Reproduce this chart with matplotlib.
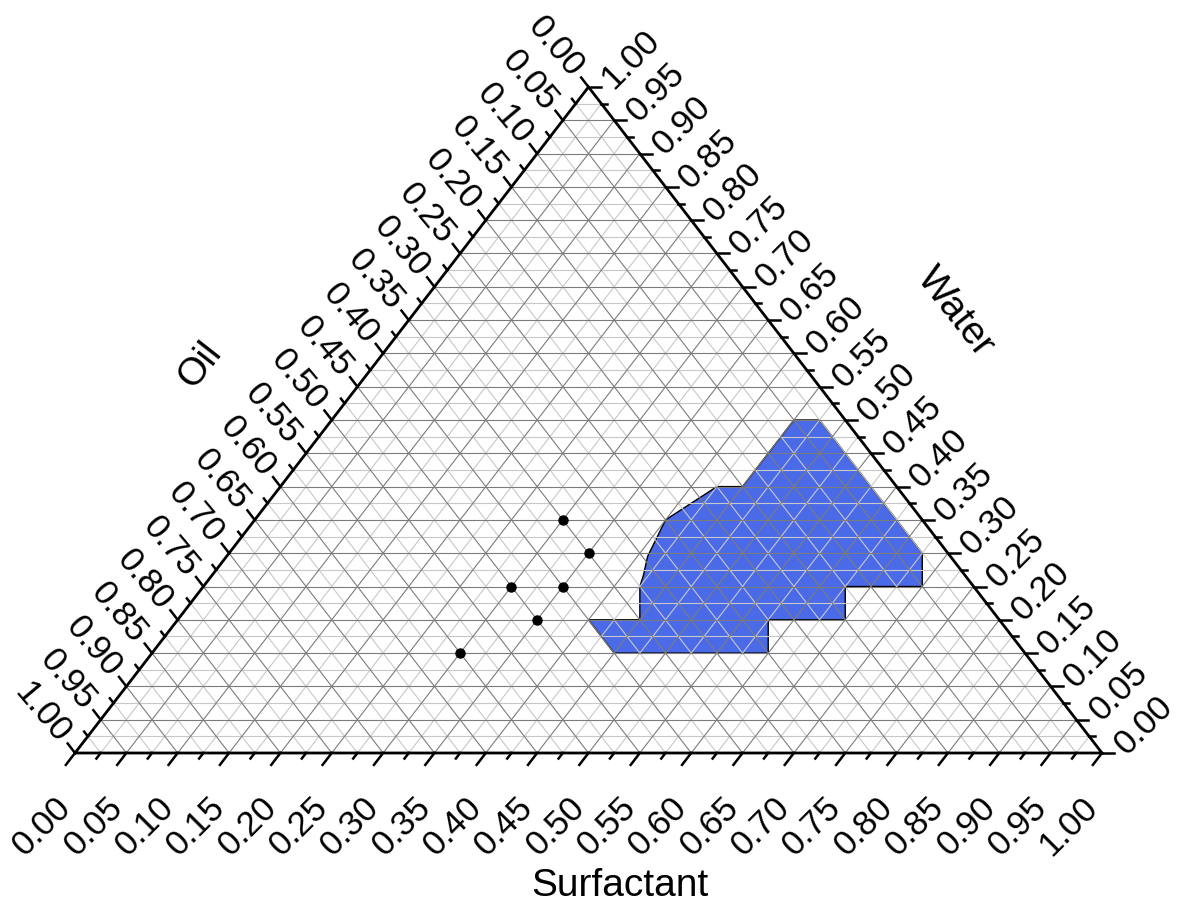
import numpy as np
import matplotlib.pyplot as plt

plt.rcParams['font.family'] = ['Liberation Sans', 'DejaVu Sans']

# Ternary data: Surfactant (bottom), Water (right), Oil = 1 - S - W (left)
point_surf = [0.30, 0.35, 0.30, 0.35, 0.35, 0.30]
point_water = [0.35, 0.30, 0.25, 0.25, 0.20, 0.15]

# Outline of the shaded (microemulsion) region
region_surf = [0.45, 0.475, 0.675, 0.70, 0.625, 0.65, 0.575, 0.60, 0.45,
               0.40, 0.45, 0.425, 0.42, 0.41, 0.40, 0.41, 0.425, 0.45]
region_water = [0.50, 0.50, 0.30, 0.25, 0.25, 0.20, 0.20, 0.15, 0.15,
                0.20, 0.20, 0.25, 0.267, 0.295, 0.35, 0.37, 0.40, 0.40]

tick_values = np.round(np.arange(0, 1.0001, 0.025), 3)


def tern(s, w):
    s = np.asarray(s, dtype=float)
    w = np.asarray(w, dtype=float)
    return s + w / 2, w


fig = plt.figure(figsize=(11.78, 9.08), dpi=100)
ax = fig.add_axes([75 / 1178, 155 / 908, 1027 / 1178, 666 / 908])
ax.set_xlim(0, 1)
ax.set_ylim(0, 1)
ax.axis('off')

pxx = 1027.0  # pixels per data unit in x
pxy = 666.0   # pixels per data unit in y

# shaded region
rx, ry = tern(region_surf, region_water)
ax.fill(rx, ry, facecolor='#4a6ae8', edgecolor='black', lw=1.0, zorder=1)

# grid lines
for i, v in enumerate(tick_values[1:-1], start=1):
    major = (i % 2 == 0)
    col = '#7c7c7c' if major else '#c8c8c8'
    z = 3 if major else 2
    # constant water
    ax.plot([v / 2, 1 - v / 2], [v, v], color=col, lw=0.8, zorder=z)
    # constant surfactant
    ax.plot([v, v + (1 - v) / 2], [0, 1 - v], color=col, lw=0.8, zorder=z)
    # constant oil
    ax.plot([1 - v, (1 - v) / 2], [0, 1 - v], color=col, lw=0.8, zorder=z)

# triangle frame
ax.plot([0, 1, 0.5, 0], [0, 0, 1, 0], color='black', lw=2.0, zorder=5,
        clip_on=False, solid_joinstyle='miter')

# scatter points
px, py = tern(point_surf, point_water)
ax.plot(px, py, 'o', color='black', ms=6.5, zorder=6)

# ticks and tick labels
edge = np.hypot(514, 666)
d_left = (-514 / edge, -666 / edge)   # along left edge, downward (pixel units, y up)
d_right = (-514 / edge, 666 / edge)   # parallel to right edge, upward-left
fs_tick = 25
for i, v in enumerate(tick_values):
    major = (i % 2 == 0)
    L = 15 if major else 7
    Lr = 12 if major else 6
    # bottom axis: Surfactant
    bx, by = v, 0.0
    ax.plot([bx, bx + d_left[0] * L / pxx], [by, by + d_left[1] * L / pxy],
            color='black', lw=1.8, clip_on=False, zorder=5)
    # left axis: Oil
    lx, ly = (1 - v) / 2, 1 - v
    ax.plot([lx, lx + d_right[0] * Lr / pxx], [ly, ly + d_right[1] * Lr / pxy],
            color='black', lw=1.8, clip_on=False, zorder=5)
    # right axis: Water
    wx, wy = 1 - v / 2, v
    ax.plot([wx, wx + Lr / pxx], [wy, wy], color='black', lw=1.8,
            clip_on=False, zorder=5)
    if major:
        lab = f'{v:.2f}'
        ax.annotate(lab, (bx, by), xytext=(-33, -73), textcoords='offset pixels',
                    rotation=45, ha='center', va='center', fontsize=fs_tick,
                    annotation_clip=False)
        ax.annotate(lab, (lx, ly), xytext=(-33, 40), textcoords='offset pixels',
                    rotation=-50, ha='center', va='center', fontsize=fs_tick,
                    annotation_clip=False)
        ax.annotate(lab, (wx, wy), xytext=(42, 28), textcoords='offset pixels',
                    rotation=45, ha='center', va='center', fontsize=fs_tick,
                    annotation_clip=False)

# axis titles
fig.text(620 / 1178, 1 - 886 / 908, 'Surfactant', ha='center', va='center',
         fontsize=28)
fig.text(200 / 1178, 1 - 365 / 908, 'Oil', ha='center', va='center',
         fontsize=28, rotation=52)
fig.text(955 / 1178, 1 - 312 / 908, 'Water', ha='center', va='center',
         fontsize=28, rotation=-52)

fig.savefig('out.png', dpi=100)
